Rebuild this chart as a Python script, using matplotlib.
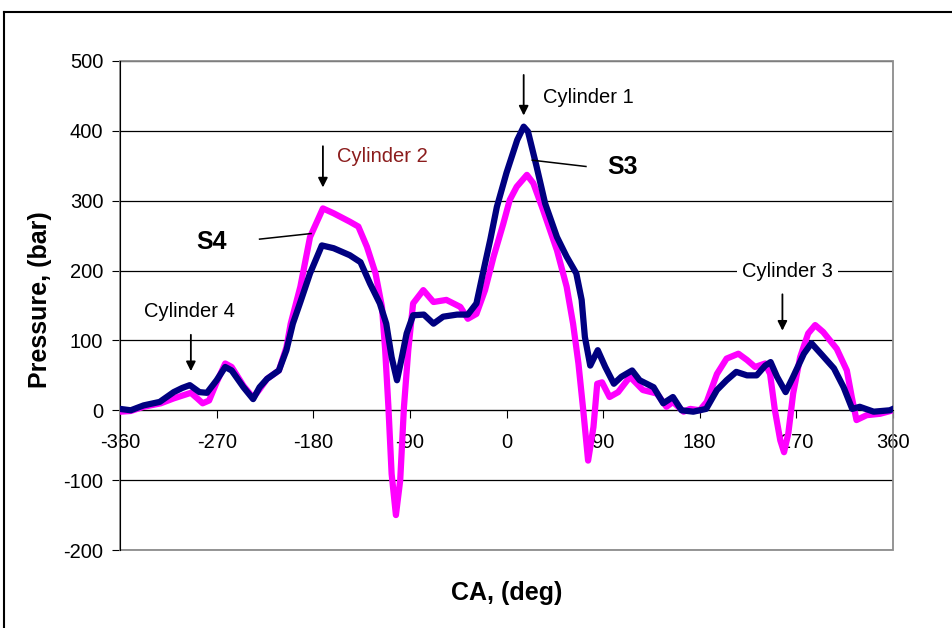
"""Cylinder pressure traces S3 / S4 against crank angle."""

import matplotlib.pyplot as plt
from matplotlib.patches import Rectangle

plt.rcParams["font.family"] = ["Liberation Sans", "DejaVu Sans"]
plt.rcParams["axes.unicode_minus"] = False

# ----- data -----
s3_ca = [-360, -350, -338, -323, -310, -302, -295, -286, -279, -270, -262, -256,
         -245, -236, -230, -223, -212, -205, -199, -192, -183, -172, -161, -146,
         -136, -127, -118, -112, -107, -102, -98, -93, -87, -77, -68, -59, -46,
         -36, -28, -22, -15, -9, 0, 10, 16, 20, 28, 36, 47, 56, 65, 70, 73, 78,
         85, 92, 100, 107, 117, 124, 137, 146, 155, 163, 174, 186, 196, 205, 214,
         224, 233, 241, 246, 252, 260, 267, 277, 284, 294, 305, 314, 322, 329,
         342, 357, 360]
s3_p = [2, 0, 7, 12, 26, 32, 36, 26, 25, 43, 62, 57,
        33, 16, 33, 45, 57, 86, 124, 155, 196, 236, 232, 222,
        212, 181, 153, 124, 76, 43, 72, 110, 136, 137, 124, 134, 137,
        137, 153, 196, 245, 291, 340, 387, 406, 399, 349, 296, 248, 220, 196, 158, 105, 64,
        86, 62, 38, 48, 57, 43, 33, 10, 19, 0, -2, 2, 29, 43, 55,
        50, 50, 64, 69, 48, 26, 48, 81, 96, 79, 60, 33, 2, 5,
        -2, 0, 2]

s4_ca = [-360, -350, -338, -322, -310, -300, -294, -288, -283, -277, -270, -262,
         -256, -245, -236, -230, -223, -212, -205, -201, -192, -183, -171, -161,
         -146, -138, -130, -122, -116, -113, -110, -107, -103, -99, -95.5, -91.5,
         -87, -77.5, -68, -56, -43, -36, -28, -20, -12, -3, 3, 9.5, 19, 25, 34,
         47, 56, 62, 67, 71.5, 76, 81, 84.5, 89, 96, 104, 115, 127, 140, 149,
         155, 165, 171, 180, 186.5, 196, 205, 216, 224, 231.5, 241, 245.5, 250,
         255, 258.5, 262.5, 267, 273.5, 281, 287.5, 295, 307.6, 317, 321.6, 326,
         335.5, 348, 360]
s4_p = [-2, -1, 5, 10, 17, 22, 25, 17, 10, 14, 40, 67,
        62, 35, 18, 30, 45, 57, 90, 124, 177, 248, 289, 282,
        270, 263, 234, 196, 148, 86, 5, -91, -150, -100, 5, 86,
        153, 172, 155, 158, 148, 131, 138, 172, 220, 267, 301, 320, 337, 325, 287,
        229, 177, 124, 67, 0, -72, -24, 38, 40, 19, 26, 48, 29, 24, 5,
        12, -2, 2, 0, 12, 52, 74, 81, 72, 62, 67, 52, 0,
        -43, -60, -33, 24, 76, 110, 122, 112, 88, 57, 19, -14,
        -7, -5, 0]

x_ticks = [-360, -270, -180, -90, 0, 90, 180, 270, 360]
y_ticks = [-200, -100, 0, 100, 200, 300, 400, 500]

# ----- plot -----
fig = plt.figure(figsize=(9.52, 6.28), dpi=100)
ax = fig.add_axes([120 / 952, 1 - 550 / 628, 773 / 952, 489 / 628])
ax.set_axisbelow(True)

ax.plot(s4_ca, s4_p, color="#FF00FF", lw=4.5, solid_joinstyle="round", zorder=3)
ax.plot(s3_ca, s3_p, color="#000080", lw=4.5, solid_joinstyle="round", zorder=4)

ax.set_xlim(-360, 360)
ax.set_ylim(-200, 500)
ax.set_xticks(x_ticks)
ax.set_yticks(y_ticks)
ax.grid(axis="y", color="black", lw=0.9)

ax.spines["bottom"].set_position(("data", 0))
ax.spines["bottom"].set_color("black")
ax.spines["left"].set_color("black")
ax.spines["top"].set_visible(False)
ax.spines["right"].set_visible(False)
ax.add_patch(Rectangle((0, 0), 1, 1, transform=ax.transAxes, fill=False,
                       edgecolor="#8c8c8c", lw=1.3, zorder=1, clip_on=False))

ax.tick_params(axis="x", direction="out", length=6, pad=10, labelsize=14.5)
ax.tick_params(axis="y", direction="out", length=6, pad=6, labelsize=14.5)

# annotations
arrow = dict(arrowstyle="-|>", color="black", lw=1.3, mutation_scale=14)
ax.text(34, 448, "Cylinder 1", fontsize=14.5, ha="left", va="center")
ax.annotate("", xy=(16, 418), xytext=(16, 484), arrowprops=arrow)

ax.text(-158, 363, "Cylinder 2", fontsize=14.5, ha="left", va="center", color="#8B1C1C")
ax.annotate("", xy=(-171, 315), xytext=(-171, 382), arrowprops=arrow)

ax.text(262, 198, "Cylinder 3", fontsize=14.5, ha="center", va="center",
        bbox=dict(boxstyle="square,pad=0.25", fc="white", ec="none"))
ax.annotate("", xy=(257, 110), xytext=(257, 170), arrowprops=arrow)

ax.text(-295, 141, "Cylinder 4", fontsize=14.5, ha="center", va="center")
ax.annotate("", xy=(-294, 52), xytext=(-294, 112), arrowprops=arrow)

ax.text(94, 348, "S3", fontsize=18, fontweight="bold", ha="left", va="center")
ax.plot([24, 74], [358, 349], color="black", lw=1.1, zorder=5)
ax.text(-289, 241, "S4", fontsize=18, fontweight="bold", ha="left", va="center")
ax.plot([-230, -182], [245, 253], color="black", lw=1.1, zorder=5)

fig.text(40 / 952, 1 - 300 / 628, "Pressure, (bar)", rotation=90, fontsize=18,
         fontweight="bold", ha="center", va="center")
fig.text(507 / 952, 1 - 593 / 628, "CA, (deg)", fontsize=18, fontweight="bold",
         ha="center", va="center")

# outer chart frame (cut off at right and bottom)
fig.add_artist(plt.Line2D([4 / 952, 4 / 952], [0, 1 - 12 / 628], color="black", lw=1.5))
fig.add_artist(plt.Line2D([4 / 952, 1], [1 - 12 / 628, 1 - 12 / 628], color="black", lw=1.5))

fig.savefig("out.png", dpi=100)
